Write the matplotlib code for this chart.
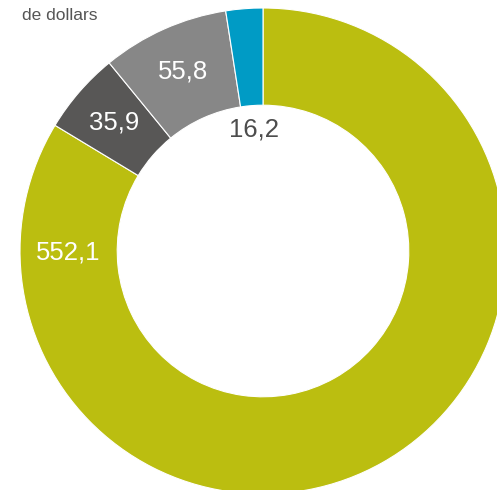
import numpy as np
import matplotlib.pyplot as plt

plt.rcParams['font.family'] = ['Liberation Sans', 'DejaVu Sans']

values = [552.1, 35.9, 55.8, 16.2]
labels = ['552,1', '35,9', '55,8', '16,2']
colors = ['#bbbe10', '#585756', '#878787', '#009bc5']
# placement of the value labels (radius from centre)
label_r = [0.80, 0.81, 0.81, 0.50]
label_col = ['white', 'white', 'white', '#4d4d4d']

fig = plt.figure(figsize=(4.97, 4.90), dpi=100)
# donut is cropped by the figure on the right and bottom
ax = fig.add_axes([20 / 497, (490 - 251 - 243) / 490, 486 / 497, 486 / 490])

wedges, _ = ax.pie(values, colors=colors, startangle=90, counterclock=False,
                   radius=1.0, wedgeprops=dict(width=0.4, edgecolor='white', linewidth=0.8))
ax.set_xlim(-1, 1)
ax.set_ylim(-1, 1)
ax.axis('off')

for i, w in enumerate(wedges):
    ang = (w.theta1 + w.theta2) / 2
    if i == 0:
        ang = 180.5  # big slice label sits on the left side
    x = label_r[i] * np.cos(np.radians(ang))
    y = label_r[i] * np.sin(np.radians(ang))
    ax.text(x, y, labels[i], color=label_col[i], fontsize=18.5, ha='center', va='center')

fig.text(22 / 497, 1 - 16 / 490, 'de dollars', color='#555555', fontsize=12.5, ha='left', va='center')

fig.savefig('out.png', dpi=100)
